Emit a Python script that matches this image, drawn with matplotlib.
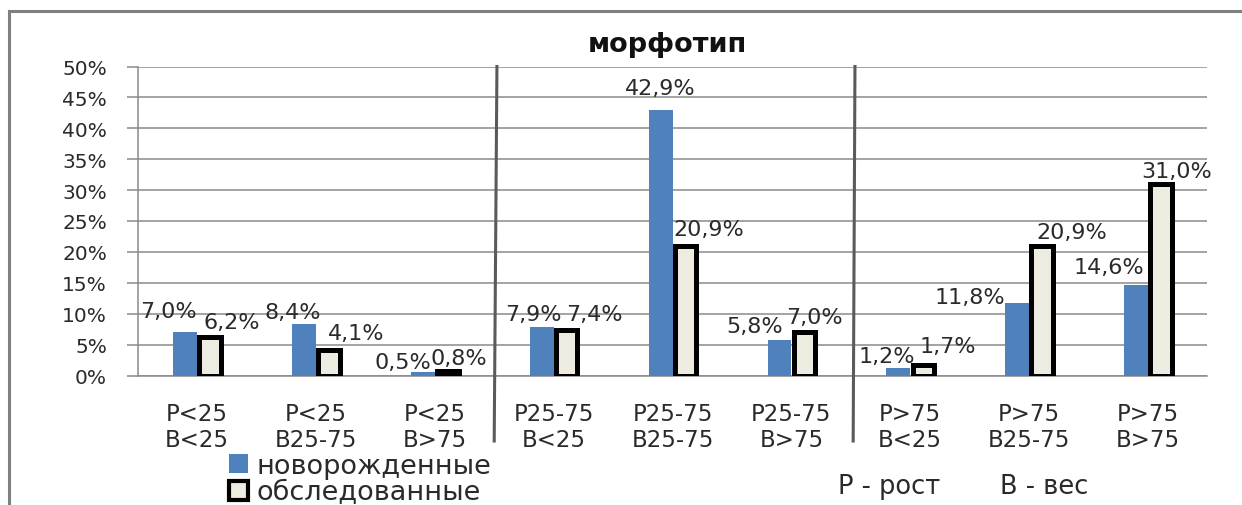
import numpy as np
import matplotlib
matplotlib.use("Agg")
import matplotlib.pyplot as plt
from matplotlib.patches import Patch, Rectangle
from matplotlib.lines import Line2D

plt.rcParams['font.family'] = ['DejaVu Sans']

# ---- data ----
categories = ["Р<25\nВ<25", "Р<25\nВ25-75", "Р<25\nВ>75",
              "Р25-75\nВ<25", "Р25-75\nВ25-75", "Р25-75\nВ>75",
              "Р>75\nВ<25", "Р>75\nВ25-75", "Р>75\nВ>75"]
newborn = [7.0, 8.4, 0.5, 7.9, 42.9, 5.8, 1.2, 11.8, 14.6]
examined = [6.2, 4.1, 0.8, 7.4, 20.9, 7.0, 1.7, 20.9, 31.0]
series_names = ["новорожденные", "обследованные"]
title = "морфотип"
note_p = "Р - рост"
note_b = "В - вес"
yticks = [0, 5, 10, 15, 20, 25, 30, 35, 40, 45, 50]

# ---- style (label offsets in pixels: dx from group centre, dy above bar top) ----
blue_dx = [-29, -23, -32, -20, -12, -37, -23, -59, -39]
blue_dy = [21, 12, 10, 13, 22, 14, 12, 6, 18]
cream_dx = [35, 40, 24, 41, 36, 23, 38, 43, 29]
cream_dy = [15, 17, 13, 16, 17, 15, 19, 14, 13]

W, H = 1242, 506
BLUE = '#4F81BD'
CREAM = '#EEECE1'
GRID = '#8a8a8a'
TXT = '#2a2a2a'

fig = plt.figure(figsize=(W / 100, H / 100), dpi=100)
fig.patch.set_facecolor('white')

left, right, top, bottom = 137.6, 1207.4, 67.5, 376.5
ax = fig.add_axes([left / W, (H - bottom) / H, (right - left) / W, (bottom - top) / H])
ax.set_xlim(-0.5, len(categories) - 0.5)
ax.set_ylim(0, 50)

x = np.arange(len(categories))
ax.bar(x - 0.1, newborn, width=0.2, color=BLUE, zorder=3)
ax.bar(x + 0.11, examined, width=0.18, color=CREAM, edgecolor='black',
       linewidth=3.6, zorder=4)

px = 0.72
def fmt(v):
    return f"{v:.1f}".replace('.', ',') + '%'

for i in range(len(categories)):
    ax.annotate(fmt(newborn[i]), xy=(i, newborn[i]),
                xytext=(blue_dx[i] * px, blue_dy[i] * px), textcoords='offset points',
                ha='center', va='center', fontsize=16, color=TXT, zorder=6,
                annotation_clip=False)
    ax.annotate(fmt(examined[i]), xy=(i, examined[i]),
                xytext=(cream_dx[i] * px, cream_dy[i] * px), textcoords='offset points',
                ha='center', va='center', fontsize=16, color=TXT, zorder=6,
                annotation_clip=False)

ax.set_yticks(yticks)
ax.set_yticklabels([f"{t}%" for t in yticks])
ax.yaxis.grid(True, color=GRID, linewidth=1.1, zorder=0)
ax.set_axisbelow(True)
ax.set_xticks(x)
ax.set_xticklabels(categories, linespacing=1.2)
ax.tick_params(axis='x', length=0, pad=19, labelsize=16.5, labelcolor=TXT)
ax.tick_params(axis='y', length=8, width=1.1, color=GRID, pad=14, labelsize=14.5,
               labelcolor=TXT)
for s in ['top', 'right']:
    ax.spines[s].set_visible(False)
for s in ['left', 'bottom']:
    ax.spines[s].set_color(GRID)
    ax.spines[s].set_linewidth(1.1)

# group dividers
for xt, xb in [(2.523, 2.50), (5.535, 5.52)]:
    ax.add_line(Line2D([xt, xb], [50, -10.6], color='#5a5a5a', linewidth=2.2,
                       clip_on=False, zorder=5))

# outer frame
fig.add_artist(Rectangle((9 / W, -0.2), 1.2, 1 - 12 / H + 0.2, transform=fig.transFigure,
                         fill=False, edgecolor='#808080', linewidth=2.2))

fig.text(667 / W, 1 - 45 / H, title, ha='center', va='center', fontsize=19.5,
         fontweight='bold', color='#111111')

handles = [Patch(facecolor=BLUE, edgecolor='none'),
           Patch(facecolor=CREAM, edgecolor='black', linewidth=3)]
fig.legend(handles, series_names, loc='upper left', bbox_to_anchor=(229 / W, 1 - 454 / H),
           frameon=False, fontsize=19.5, handlelength=0.7, handleheight=0.7,
           handletextpad=0.3, labelspacing=0.02, borderaxespad=0, borderpad=0,
           labelcolor=TXT)

fig.text(838 / W, 1 - 487 / H, note_p, ha='left', va='center', fontsize=18.5, color=TXT)
fig.text(1000 / W, 1 - 487 / H, note_b, ha='left', va='center', fontsize=18.5, color=TXT)

fig.savefig('out.png', dpi=100)
